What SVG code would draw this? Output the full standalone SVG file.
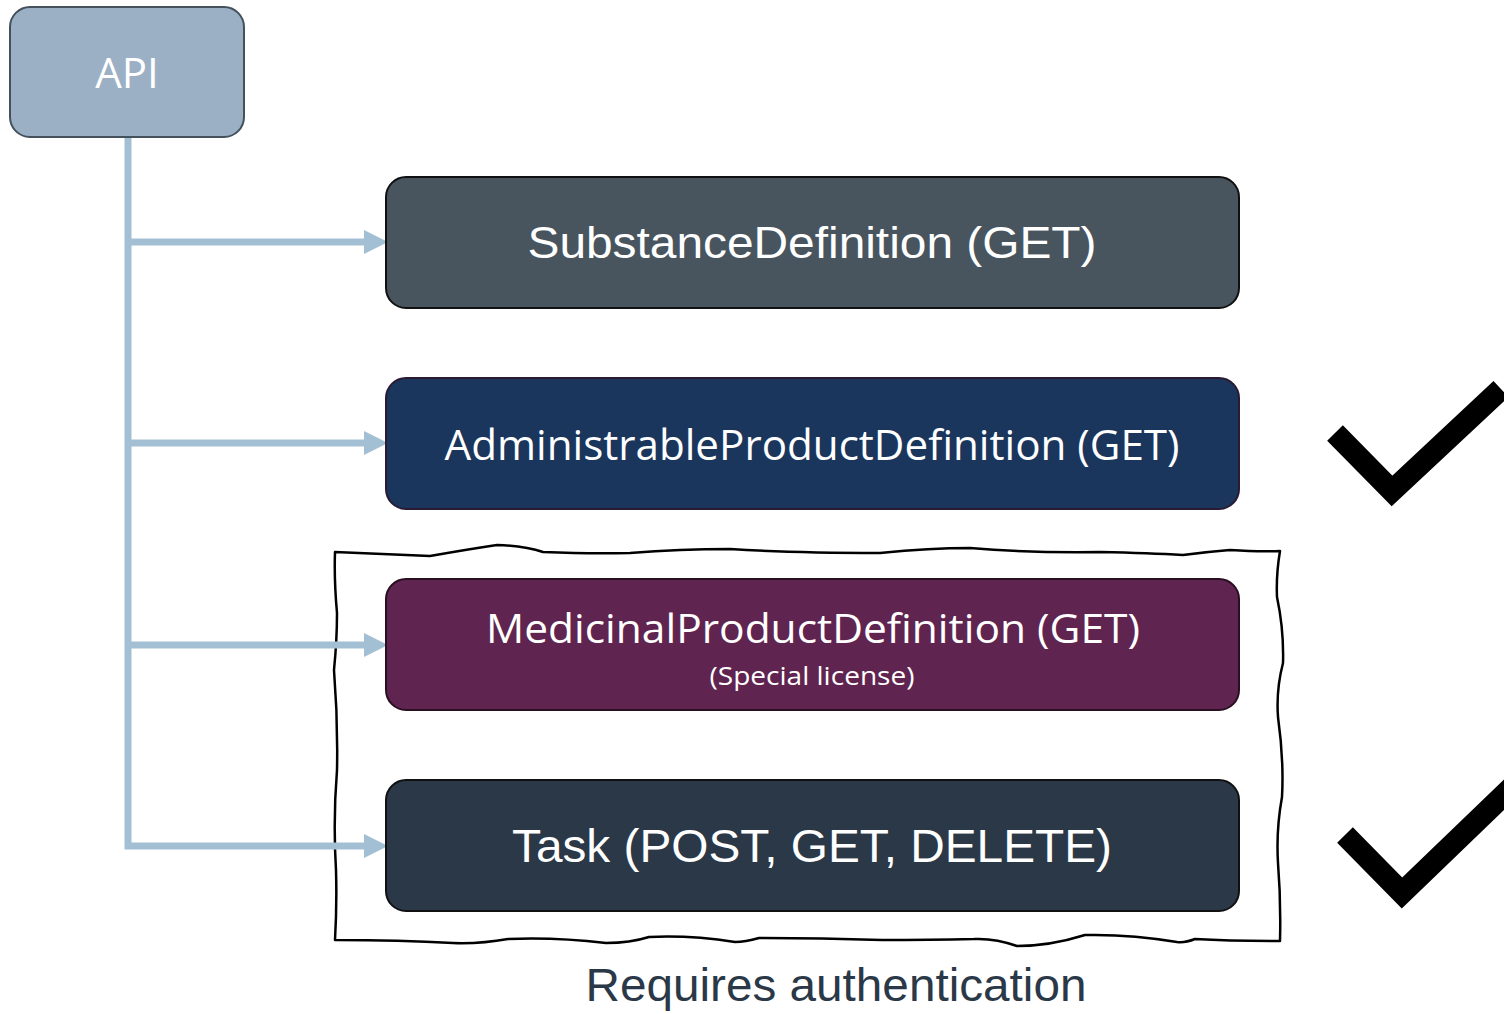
<svg xmlns="http://www.w3.org/2000/svg" width="1504" height="1014" viewBox="0 0 1504 1014">
  <defs>
    <style>
      .node rect { stroke-width: 2; }
      .sans { font-family: "Liberation Sans", Arial, sans-serif; fill: #ffffff; text-anchor: middle; }
      .hum { font-family: "Open Sans", "Noto Sans", sans-serif; fill: #ffffff; text-anchor: middle; }
      .link { fill: none; stroke: #a3bfd3; stroke-width: 7; stroke-linejoin: miter; }
      .check { fill: none; stroke: #000000; stroke-width: 22; stroke-linejoin: miter; stroke-linecap: butt; }
    </style>
    <marker id="head" markerUnits="userSpaceOnUse" markerWidth="24" markerHeight="26" refX="0" refY="12" orient="auto" viewBox="0 0 24 24">
      <path d="M0,0 L24,12 L0,24 Z" fill="#a3bfd3"/>
    </marker>
  </defs>

  <rect width="1504" height="1014" fill="#ffffff"/>

  <!-- authentication frame -->
  <g id="auth-frame">
    <path d="M335,552
             Q360,553 430,556 Q470,549 497,545 Q525,546 543,552 Q590,554 630,553
             Q680,549 730,549 Q790,553 880,553 Q930,548 970,548 Q1030,553 1100,552
             Q1150,553 1183,555 Q1205,552 1230,550 Q1260,552 1280,551
             Q1276,575 1277,597 Q1284,630 1283,663 Q1276,690 1278,717 Q1284,760 1282,797
             Q1276,830 1278,863 Q1281,900 1280,941
             Q1230,941 1195,939 Q1185,943 1177,942 Q1130,934 1085,935 Q1050,946 1017,946
             Q995,938 974,939 Q930,940 882,940 Q820,938 759,938 Q745,942 735,942
             Q690,935 649,937 Q630,943 606,943 Q555,937 508,939 Q480,944 453,943
             Q400,940 335,940
             Q337,905 336,870 Q333,820 337,770 Q338,720 334,670 Q337,640 337,613 Q334,580 335,552 Z"
          fill="none" stroke="#000000" stroke-width="2.5" stroke-linejoin="round"/>
    <text x="836" y="1001" font-family="Liberation Sans, Arial, sans-serif" font-size="46" fill="#2a3848" text-anchor="middle" textLength="501" lengthAdjust="spacingAndGlyphs">Requires authentication</text>
  </g>

  <!-- connectors -->
  <g id="connectors">
    <path class="link" d="M128,137 V846 H364" marker-end="url(#head)"/>
    <path class="link" d="M128,242 H364" marker-end="url(#head)"/>
    <path class="link" d="M128,443 H364" marker-end="url(#head)"/>
    <path class="link" d="M128,645 H364" marker-end="url(#head)"/>
  </g>

  <!-- nodes -->
  <g id="api" class="node">
    <rect x="10" y="7" width="234" height="130" rx="20" fill="#9bb0c4" stroke="#44505c"/>
    <text class="hum" x="127" y="88" font-size="42">API</text>
  </g>

  <g id="substance-definition" class="node">
    <rect x="386" y="177" width="853" height="131" rx="20" fill="#48555f" stroke="#111111"/>
    <text class="sans" x="812" y="258" font-size="45" textLength="569" lengthAdjust="spacingAndGlyphs">SubstanceDefinition (GET)</text>
  </g>

  <g id="administrable-product-definition" class="node">
    <rect x="386" y="378" width="853" height="131" rx="20" fill="#1a365d" stroke="#2b1a33"/>
    <text class="hum" x="812" y="460" font-size="42" textLength="735" lengthAdjust="spacingAndGlyphs">AdministrableProductDefinition (GET)</text>
  </g>

  <g id="medicinal-product-definition" class="node">
    <rect x="386" y="579" width="853" height="131" rx="20" fill="#5f244f" stroke="#2a0f20"/>
    <text class="hum" x="813" y="643" font-size="41" textLength="654" lengthAdjust="spacingAndGlyphs">MedicinalProductDefinition (GET)</text>
    <text class="hum" x="812" y="685" font-size="25" textLength="205" lengthAdjust="spacingAndGlyphs">(Special license)</text>
  </g>

  <g id="task" class="node">
    <rect x="386" y="780" width="853" height="131" rx="20" fill="#2a3848" stroke="#111111"/>
    <text class="sans" x="812" y="862" font-size="47" textLength="600" lengthAdjust="spacingAndGlyphs">Task (POST, GET, DELETE)</text>
  </g>

  <!-- check marks -->
  <g id="check-administrable">
    <path class="check" d="M1335,433 L1392,491 L1501,389"/>
  </g>
  <g id="check-task">
    <path class="check" d="M1345,835 L1402,893 L1512,787"/>
  </g>
</svg>
